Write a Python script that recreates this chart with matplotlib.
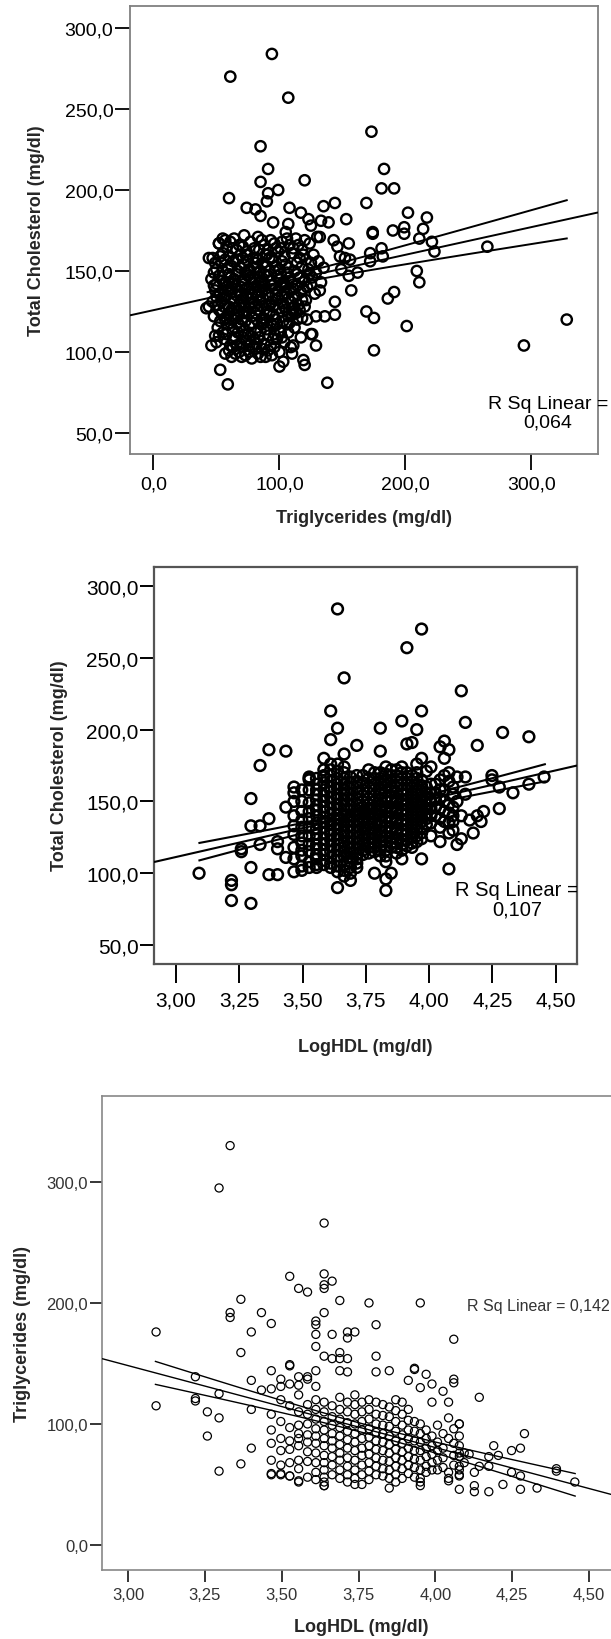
import numpy as np
import matplotlib
matplotlib.use("Agg")
import matplotlib.pyplot as plt

plt.rcParams['font.family'] = ['Liberation Sans', 'DejaVu Sans']

W, H = 611, 1640

# ---------------- panel 1: Triglycerides vs Total Cholesterol ----------------
p1_outer = [(94, 284), (61, 270), (107, 257), (173, 236), (85, 227), (91, 213), (183, 213),
            (120, 206), (85, 205), (99, 200), (181, 201), (191, 201), (91, 198), (60, 195),
            (90, 193), (108, 189), (74, 189), (81, 188), (85, 184), (144, 192), (135, 190),
            (169, 192), (117, 186), (202, 186), (153, 182), (217, 183), (95, 180), (123, 182),
            (133, 181), (139, 180), (125, 178), (107, 179), (174, 174), (174, 173), (190, 175),
            (199, 177), (199, 173), (214, 176), (105, 174), (130, 171), (132, 171), (155, 167),
            (143, 169), (211, 170), (221, 168), (223, 162), (265, 165), (181, 164), (172, 161),
            (172, 156), (182, 159), (209, 150), (211, 143), (191, 137), (186, 133), (157, 138),
            (162, 149), (155, 147), (149, 151), (152, 158), (148, 159), (156, 157), (146, 165),
            (144, 131), (144, 123), (129, 122), (136, 122), (169, 125), (175, 121), (122, 120),
            (201, 116), (328, 120), (294, 104), (175, 101), (126, 111), (125, 111), (129, 104),
            (120, 128), (111, 104), (117, 109), (110, 99), (119, 95), (120, 92), (103, 94),
            (100, 100), (100, 91), (94, 98), (85, 97), (70, 97), (53, 89), (59, 80), (138, 81),
            (46, 104), (49, 110), (44, 128), (42, 127), (44, 158), (48, 141), (52, 167), (57, 169),
            (82, 105), (76, 100), (65, 99), (63, 103), (101, 112), (110, 123), (111, 125),
            (103, 130), (95, 108)]
p1_core = [(52, 167), (58, 165), (64, 170), (68, 166), (72, 172), (77, 168), (83, 171), (88, 166),
           (93, 169), (97, 164), (102, 168), (108, 166), (113, 170), (118, 163), (124, 167),
           (47, 158), (55, 161), (60, 159), (63, 164), (69, 160), (74, 162), (79, 158), (84, 163),
           (89, 160), (94, 158), (99, 162), (104, 159), (110, 161), (116, 158), (121, 157),
           (127, 160), (131, 156), (50, 151), (54, 155), (59, 152), (63, 156), (67, 150), (72, 154),
           (76, 151), (81, 155), (85, 150), (90, 153), (95, 156), (100, 151), (105, 154), (112, 150),
           (118, 153), (123, 151), (129, 149), (135, 152), (46, 145), (52, 147), (57, 143), (61, 146),
           (66, 148), (70, 144), (75, 147), (79, 143), (84, 146), (88, 148), (93, 144), (98, 147),
           (103, 143), (108, 146), (114, 148), (120, 144), (126, 146), (133, 143), (49, 138),
           (53, 136), (58, 140), (62, 137), (65, 141), (69, 135), (73, 139), (78, 136), (82, 140),
           (86, 137), (91, 135), (96, 139), (101, 141), (106, 136), (111, 139), (117, 137),
           (122, 140), (128, 136), (132, 138), (47, 131), (51, 129), (56, 133), (60, 128), (64, 131),
           (68, 129), (71, 133), (76, 130), (80, 128), (85, 132), (89, 129), (94, 131), (99, 133),
           (104, 128), (109, 131), (115, 129), (121, 132), (48, 122), (54, 124), (58, 121), (62, 126),
           (66, 123), (70, 120), (74, 125), (78, 122), (83, 126), (87, 121), (92, 124), (97, 120),
           (102, 125), (107, 122), (113, 124), (118, 121), (51, 115), (55, 112), (59, 117), (63, 114),
           (67, 118), (72, 113), (76, 116), (81, 112), (86, 117), (90, 114), (95, 116), (100, 113),
           (106, 117), (112, 115), (50, 106), (56, 108), (61, 104), (65, 109), (69, 105), (74, 107),
           (79, 103), (84, 109), (88, 105), (93, 104), (98, 108), (104, 106), (109, 103), (57, 99),
           (62, 97), (68, 100), (73, 98), (78, 96), (83, 99), (89, 97), (75, 150), (80, 145), (85, 140),
           (78, 133), (72, 128), (88, 142), (92, 150), (82, 158), (70, 140), (66, 135), (95, 128),
           (87, 118), (77, 110), (63, 120), (60, 143), (100, 145), (105, 140), (97, 135), (90, 160),
           (74, 160)]
p1_core2 = [(55, 170), (61, 168), (66, 163), (71, 165), (80, 164), (86, 169), (91, 163), (96, 167),
            (101, 164), (106, 170), (111, 164), (115, 166), (120, 169), (49, 155), (53, 159), (57, 157),
            (62, 153), (66, 157), (71, 158), (75, 156), (80, 152), (83, 157), (87, 155), (92, 158),
            (97, 153), (102, 156), (107, 152), (114, 155), (119, 160), (125, 155), (48, 149), (55, 150),
            (60, 148), (64, 145), (69, 152), (73, 149), (77, 146), (82, 149), (86, 144), (91, 147),
            (96, 150), (101, 148), (106, 149), (110, 143), (116, 146), (124, 148), (50, 142), (55, 144),
            (59, 138), (63, 142), (67, 138), (72, 142), (76, 139), (81, 137), (85, 143), (89, 139),
            (94, 141), (99, 138), (104, 142), (109, 138), (114, 141), (119, 139), (125, 142), (50, 134),
            (54, 131), (58, 135), (62, 133), (66, 127), (70, 131), (74, 134), (79, 131), (83, 135),
            (87, 133), (92, 129), (97, 132), (102, 135), (107, 133), (112, 134), (118, 132), (52, 126),
            (56, 128), (60, 124), (64, 127), (68, 125), (72, 124), (77, 127), (81, 124), (86, 128),
            (90, 125), (95, 123), (100, 127), (105, 126), (111, 127), (116, 126), (53, 119), (57, 120),
            (61, 118), (65, 121), (69, 116), (73, 119), (78, 118), (82, 120), (88, 120), (93, 118),
            (98, 117), (103, 119), (108, 118), (114, 120), (52, 110), (58, 111), (63, 108), (67, 112),
            (71, 109), (75, 111), (80, 108), (85, 113), (91, 110), (96, 111), (102, 109), (107, 112),
            (60, 101), (66, 104), (71, 103), (76, 104), (81, 102), (86, 102), (91, 101), (96, 103)]
p1_fit = (125.8, 0.171)          # intercept, slope
p1_ci = (43, 328, 95, 2.8, 11.8)  # x from, x to, mean x, half width at mean, at right end
p1_xticks = [0, 100, 200, 300]
p1_xlabels = ['0,0', '100,0', '200,0', '300,0']
p1_yticks = [50, 100, 150, 200, 250, 300]
p1_ylabels = ['50,0', '100,0', '150,0', '200,0', '250,0', '300,0']

# ---------------- panel 2: LogHDL vs Total Cholesterol ----------------
p2_outer = [(3.638, 284), (3.970, 270), (3.912, 257), (3.664, 236), (4.127, 227), (3.611, 213),
            (3.970, 213), (3.638, 201), (3.807, 201), (3.892, 206), (3.951, 200), (4.143, 205),
            (4.290, 198), (4.394, 195), (3.611, 193), (3.912, 190), (3.932, 191), (3.714, 189),
            (4.190, 189), (4.060, 192), (4.043, 188), (3.367, 186), (3.434, 185), (3.807, 185),
            (3.664, 183), (3.584, 180), (3.970, 180), (4.078, 186), (3.332, 175), (3.951, 176),
            (4.110, 167), (4.143, 167), (4.248, 168), (4.248, 165), (4.277, 160), (4.331, 156),
            (4.394, 162), (4.454, 167), (4.277, 145), (4.215, 143), (4.205, 136), (4.174, 128),
            (4.127, 124), (4.043, 122), (4.007, 126), (4.078, 103), (3.970, 110), (3.932, 118),
            (3.892, 110), (3.850, 100), (3.829, 88), (3.784, 100), (3.829, 96), (3.638, 90),
            (3.689, 95), (3.091, 100), (3.219, 95), (3.219, 92), (3.219, 81), (3.296, 79),
            (3.296, 104), (3.367, 99), (3.401, 99), (3.258, 117), (3.258, 115), (3.332, 120),
            (3.296, 133), (3.332, 133), (3.367, 138), (3.296, 152), (3.401, 122), (3.401, 117),
            (3.434, 111), (3.434, 146), (3.466, 101), (3.497, 102), (3.555, 104), (3.466, 160),
            (3.466, 156), (3.526, 165), (3.526, 167), (3.584, 167), (3.989, 171), (4.007, 174),
            (4.110, 150), (4.127, 140), (4.143, 155), (4.160, 137), (4.094, 130), (4.110, 120),
            (4.190, 140)]
hdl_cols = [3.466, 3.497, 3.526, 3.555, 3.584, 3.611, 3.638, 3.664, 3.689, 3.714, 3.738, 3.761,
            3.784, 3.807, 3.829, 3.850, 3.871, 3.892, 3.912, 3.932, 3.951, 3.970, 3.989, 4.007,
            4.025, 4.043, 4.060, 4.078, 4.094]
p2_core_tc = [[150, 127, 118], [158, 143, 132, 121, 112, 105], [166, 149, 138, 126, 115, 108],
              [162, 155, 147, 140, 131, 124, 117, 110], [168, 158, 150, 143, 136, 128, 120, 113, 106],
              [172, 164, 157, 149, 141, 134, 127, 119, 111, 104],
              [176, 166, 159, 152, 145, 138, 131, 124, 116, 109, 101],
              [170, 162, 155, 147, 140, 133, 126, 118, 112, 106, 98],
              [167, 159, 151, 144, 137, 129, 121, 114, 108, 100],
              [164, 156, 148, 141, 133, 125, 117, 110, 104], [168, 158, 150, 143, 136, 128, 120, 113],
              [172, 160, 152, 145, 138, 131, 124, 118], [166, 158, 150, 142, 135, 128, 121, 115],
              [170, 162, 155, 147, 140, 133, 126, 119, 112],
              [174, 165, 157, 150, 143, 136, 129, 122, 116, 108],
              [168, 160, 153, 146, 139, 132, 125, 118], [172, 164, 156, 149, 142, 135, 128, 121, 114],
              [170, 162, 155, 148, 141, 134, 127, 120], [166, 158, 151, 144, 137, 130, 123],
              [168, 160, 153, 146, 139, 132, 125], [170, 162, 155, 148, 141, 134, 126],
              [165, 157, 150, 143, 136, 128], [160, 152, 145, 138], [162, 150, 140], [156, 146],
              [165, 152, 138], [180, 158, 143], [170, 148, 135], [155, 140]]
p2_core_tc2 = [[140, 133, 110], [150, 137, 126, 116], [158, 143, 132, 120, 104],
               [166, 158, 151, 144, 135, 127, 120, 113, 106], [172, 163, 154, 146, 139, 132, 124, 116, 109],
               [176, 168, 160, 153, 145, 137, 130, 123, 115, 107],
               [171, 162, 155, 148, 141, 134, 127, 120, 112, 105],
               [174, 166, 158, 151, 144, 136, 129, 122, 115, 102],
               [163, 155, 147, 140, 133, 125, 117, 111, 104],
               [168, 160, 152, 144, 137, 129, 121, 113, 107], [163, 154, 146, 139, 132, 124, 116],
               [166, 156, 148, 141, 135, 127, 121, 114], [170, 162, 154, 146, 139, 131, 124, 118],
               [166, 158, 151, 144, 136, 129, 122, 116], [169, 161, 153, 146, 139, 132, 125, 119, 112],
               [172, 164, 157, 150, 143, 136, 129, 121], [168, 160, 152, 145, 138, 131, 124, 118],
               [174, 166, 158, 151, 144, 137, 130, 123, 116], [170, 162, 155, 148, 141, 134, 127, 119],
               [164, 156, 149, 142, 135, 128, 121], [166, 158, 151, 144, 137, 130, 122],
               [161, 153, 146, 139, 132, 124], [156, 148, 141, 134], [156, 145, 135], [162, 151, 140],
               [158, 145, 132], [168, 150, 136], [164, 142, 128], [160, 146, 136]]
p2_fit = (-9.3, 40.2)
p2_ci = (3.0925, 4.457, 3.78, 2.8, 6.0)
p2_xticks = [3.00, 3.25, 3.50, 3.75, 4.00, 4.25, 4.50]
p2_xlabels = ['3,00', '3,25', '3,50', '3,75', '4,00', '4,25', '4,50']

# ---------------- panel 3: LogHDL vs Triglycerides ----------------
p3_outer = [(3.332, 330), (3.296, 295), (3.638, 266), (3.526, 222), (3.638, 224), (3.664, 218),
            (3.638, 215), (3.638, 212), (3.555, 212), (3.584, 209), (3.367, 203), (3.689, 202),
            (3.784, 200), (3.951, 200), (3.332, 192), (3.332, 188), (3.434, 192), (3.638, 192),
            (3.466, 183), (3.611, 185), (3.611, 182), (3.807, 182), (3.091, 176), (3.401, 176),
            (3.664, 174), (3.611, 174), (3.714, 176), (3.738, 176), (3.714, 171), (4.060, 170),
            (3.611, 164), (3.367, 159), (3.638, 156), (3.807, 156), (3.664, 154), (3.689, 159),
            (3.689, 154), (3.714, 154), (3.526, 149), (3.526, 148), (3.466, 144), (3.611, 144),
            (3.689, 144), (3.714, 143), (3.807, 143), (3.850, 144), (3.932, 146), (3.932, 145),
            (3.584, 139), (3.584, 137), (3.970, 141), (3.555, 139), (3.219, 139), (3.401, 136),
            (3.497, 137), (3.912, 136), (4.060, 137), (4.060, 134), (3.989, 133), (4.025, 127),
            (3.951, 130), (3.497, 131), (3.526, 133), (3.555, 132), (3.611, 131), (3.434, 128),
            (3.466, 129), (3.296, 125), (3.219, 121), (3.219, 119), (4.143, 122), (3.091, 115),
            (3.401, 112), (3.258, 110), (3.296, 105), (3.258, 90), (3.401, 80), (3.367, 67),
            (3.296, 61), (3.989, 118), (4.043, 118), (4.007, 99), (4.078, 100), (4.290, 92),
            (4.277, 80), (4.248, 78), (4.190, 82), (4.205, 74), (4.174, 73), (4.394, 61),
            (4.394, 63), (4.454, 52), (4.331, 47), (4.277, 46), (4.220, 50), (4.174, 44),
            (4.127, 44), (4.127, 49), (4.078, 46), (4.248, 60), (4.277, 57), (4.174, 65),
            (4.127, 60), (4.143, 65), (4.110, 75), (4.078, 73), (3.850, 47), (3.638, 49),
            (3.638, 52), (3.555, 53), (3.466, 59), (3.497, 59), (3.526, 57), (3.951, 49),
            (3.951, 52), (4.043, 53), (4.078, 65), (4.078, 57)]
p3_core_tg = [[108, 95, 84, 70, 58], [120, 102, 88, 78, 66, 58], [115, 97, 86, 79, 68, 57],
              [124, 110, 99, 92, 88, 82, 70, 63, 52], [116, 108, 100, 91, 85, 77, 69, 56],
              [120, 112, 104, 96, 90, 84, 76, 68, 60, 54],
              [118, 110, 102, 95, 88, 82, 74, 68, 62, 56, 49],
              [115, 106, 99, 92, 86, 80, 73, 66, 58], [122, 112, 104, 97, 90, 83, 76, 70, 62, 55],
              [118, 110, 101, 94, 87, 80, 72, 65, 58, 52],
              [124, 116, 108, 100, 92, 85, 78, 70, 62, 55, 50],
              [118, 110, 102, 95, 88, 80, 74, 66, 58, 50], [120, 112, 104, 96, 89, 82, 75, 68, 61, 54],
              [118, 108, 100, 93, 86, 79, 72, 65, 58], [116, 107, 99, 92, 85, 78, 70, 63, 57],
              [114, 106, 98, 90, 83, 76, 69, 62, 55], [120, 111, 102, 94, 86, 79, 72, 65, 58, 52],
              [118, 108, 99, 91, 84, 77, 70, 63, 55], [112, 103, 95, 88, 80, 73, 66, 59],
              [102, 94, 86, 78, 71, 64, 56], [100, 92, 85, 78, 70, 62, 55], [95, 88, 80, 73, 65, 60],
              [90, 82, 75, 68, 62], [85, 78, 70, 62], [92, 80, 72, 64], [105, 88, 60, 55],
              [96, 84, 74, 66], [100, 90, 82, 76, 62, 58], [76, 68]]
p3_fit = (351.3, -67.7)
p3_ci = (3.089, 4.455, 3.78, 3.6, 9.3)
p3_yticks = [0, 100, 200, 300]
p3_ylabels = ['0,0', '100,0', '200,0', '300,0']


def px(x, y):
    # figure fraction from pixel position (top-left origin)
    return x / W, 1 - y / H


def unfold(cols, vals):
    xs, ys = [], []
    for c, v in zip(cols, vals):
        xs += [c] * len(v)
        ys += v
    return xs, ys


def draw_fit(ax, fit, ci, lw):
    x0, x1 = ax.get_xlim()
    xl = np.array([x0, x1])
    ax.plot(xl, fit[0] + fit[1] * xl, color='black', lw=lw, zorder=4, solid_capstyle='butt')
    xc = np.linspace(ci[0], ci[1], 60)
    b = np.sqrt(ci[4] ** 2 - ci[3] ** 2) / (ci[1] - ci[2])
    hw = np.sqrt(ci[3] ** 2 + (b * (xc - ci[2])) ** 2)
    yc = fit[0] + fit[1] * xc
    ax.plot(xc, yc + hw, color='black', lw=lw, zorder=4)
    ax.plot(xc, yc - hw, color='black', lw=lw, zorder=4)


fig = plt.figure(figsize=(W / 100, H / 100), dpi=100)

# ---- panel 1
ax1 = fig.add_axes([130 / W, 1 - 455 / H, 468 / W, 448 / H])
pts = np.array(p1_outer + p1_core + p1_core2).T
ax1.scatter(pts[0], pts[1], s=55, facecolors='none', edgecolors='black', linewidths=1.7, zorder=3)
ax1.set_xlim(-18.6, 352.8)
ax1.set_ylim(37, 313.6)
draw_fit(ax1, p1_fit, p1_ci, 1.4)
ax1.set_xticks(p1_xticks, p1_xlabels)
ax1.set_yticks(p1_yticks, p1_ylabels)
ax1.tick_params(axis='x', length=11.5, width=1.3, pad=4, labelsize=14)
ax1.tick_params(axis='y', length=11, width=1.3, pad=1, labelsize=14)
ax1.text(313, 62.5, 'R Sq Linear =\n0,064', ha='center', va='center', fontsize=14, linespacing=1.05)
for s in ax1.spines.values():
    s.set_color('#808080')
    s.set_linewidth(1.3)
fig.text(*px(37, 231), 'Total Cholesterol (mg/dl)', rotation=90, ha='center', va='center',
         fontsize=13, fontweight='bold', color='#262626')
fig.text(*px(364, 519), 'Triglycerides (mg/dl)', ha='center', va='center',
         fontsize=13, fontweight='bold', color='#262626')

# ---- panel 2
ax2 = fig.add_axes([154 / W, 1 - 965 / H, 423 / W, 397 / H])
cx, cy = unfold(hdl_cols, p2_core_tc)
cx2, cy2 = unfold(hdl_cols, p2_core_tc2)
pts = np.array(p2_outer).T
ax2.scatter(list(pts[0]) + cx + cx2, list(pts[1]) + cy + cy2, s=60, facecolors='none',
            edgecolors='black', linewidths=1.8, zorder=3)
ax2.set_xlim(2.913, 4.584)
ax2.set_ylim(36.8, 313.2)
draw_fit(ax2, p2_fit, p2_ci, 1.5)
ax2.set_xticks(p2_xticks, p2_xlabels)
ax2.set_yticks(p1_yticks, p1_ylabels)
ax2.tick_params(axis='x', length=14, width=1.4, pad=5, labelsize=15)
ax2.tick_params(axis='y', length=10, width=1.4, pad=1, labelsize=15)
ax2.text(4.347, 82, 'R Sq Linear =\n0,107', ha='center', va='center', fontsize=14.5,
         linespacing=1.05, clip_on=True)
for s in ax2.spines.values():
    s.set_color('#555555')
    s.set_linewidth(1.6)
fig.text(*px(60, 766), 'Total Cholesterol (mg/dl)', rotation=90, ha='center', va='center',
         fontsize=13, fontweight='bold', color='#262626')
fig.text(*px(365, 1047), 'LogHDL (mg/dl)', ha='center', va='center',
         fontsize=13, fontweight='bold', color='#262626')

# ---- panel 3
ax3 = fig.add_axes([102 / W, 1 - 1571 / H, 518 / W, 474 / H])
cx, cy = unfold(hdl_cols, p3_core_tg)
pts = np.array(p3_outer).T
ax3.scatter(list(pts[0]) + cx, list(pts[1]) + cy, s=34, facecolors='none', edgecolors='black',
            linewidths=0.9, zorder=3)
ax3.set_xlim(2.915, 4.601)
ax3.set_ylim(-20.7, 371)
draw_fit(ax3, p3_fit, p3_ci, 1.0)
ax3.set_xticks(p2_xticks, p2_xlabels)
ax3.set_yticks(p3_yticks, p3_ylabels)
ax3.tick_params(axis='x', length=8.6, width=1.1, pad=4, labelsize=12, labelcolor='#333333')
ax3.tick_params(axis='y', length=9, width=1.1, pad=1, labelsize=12, labelcolor='#333333')
ax3.text(4.104, 198, 'R Sq Linear = 0,142', ha='left', va='center', fontsize=11.5, color='#333333')
for s in ax3.spines.values():
    s.set_color('#888888')
    s.set_linewidth(1.2)
fig.text(*px(23, 1334), 'Triglycerides (mg/dl)', rotation=90, ha='center', va='center',
         fontsize=13, fontweight='bold', color='#262626')
fig.text(*px(361, 1628), 'LogHDL (mg/dl)', ha='center', va='center',
         fontsize=13, fontweight='bold', color='#262626')

fig.savefig('out.png', dpi=100)
